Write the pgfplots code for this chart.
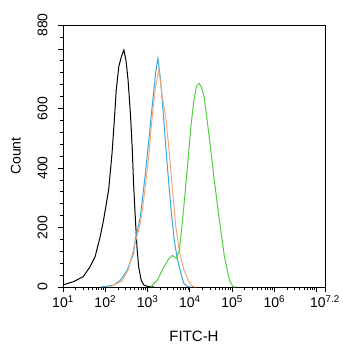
\documentclass[border=0pt]{standalone}
\usepackage{fontspec}
\setmainfont{Liberation Sans}
\usepackage{pgfplots}
\pgfplotsset{compat=1.18}
\definecolor{cblue}{HTML}{3AA8DC}
\definecolor{corange}{HTML}{F0A878}
\definecolor{cgreen}{HTML}{55CC44}
\begin{document}
\begin{tikzpicture}
\path[use as bounding box] (-63pt,-63pt) rectangle (279pt,287pt);
\begin{axis}[
  at={(0pt,0pt)}, anchor=south west,
  scale only axis, width=262pt, height=262pt,
  xmin=1, xmax=7.2, ymin=0, ymax=880,
  xtick={1,2,3,4,5,6,7,7.2},
  xticklabels={10\textsuperscript{1},10\textsuperscript{2},10\textsuperscript{3},10\textsuperscript{4},10\textsuperscript{5},10\textsuperscript{6},{},10\textsuperscript{7.2}},
  minor xtick={1.301,1.477,1.602,1.699,1.778,1.845,1.903,1.954,
               2.301,2.477,2.602,2.699,2.778,2.845,2.903,2.954,
               3.301,3.477,3.602,3.699,3.778,3.845,3.903,3.954,
               4.301,4.477,4.602,4.699,4.778,4.845,4.903,4.954,
               5.301,5.477,5.602,5.699,5.778,5.845,5.903,5.954,
               6.301,6.477,6.602,6.699,6.778,6.845,6.903,6.954},
  ytick={0,200,400,600,800,880},
  yticklabels={0,200,400,600,{},880},
  minor ytick={40,80,120,160,240,280,320,360,440,480,520,560,640,680,720,760,840},
  tick pos=left, tick align=outside,
  major tick length=5pt, minor tick length=3pt,
  tick style={black, line width=0.6pt},
  axis line style={black, line width=0.8pt},
  /pgf/number format/assume math mode=true,
  yticklabel style={rotate=90, anchor=south, font=\fontsize{14}{14}\selectfont},
  yticklabel shift=7pt,
  xticklabel style={font=\fontsize{14}{14}\selectfont},
  xlabel={FITC-H}, ylabel={Count},
  xlabel style={at={(axis description cs:0.5,-0.19)}, anchor=center, font=\fontsize{15}{15}\selectfont},
  ylabel style={at={(axis description cs:-0.18,0.5)}, anchor=center, font=\fontsize{14}{14}\selectfont},
  every axis plot/.append style={line width=1pt, mark=none},
]
% black
\addplot[black] coordinates {
(1.00,7) (1.25,18) (1.48,35) (1.64,68) (1.76,102) (1.88,169) (1.96,225) (2.08,326)
(2.16,449) (2.21,550) (2.26,662) (2.32,740) (2.38,773) (2.44,796) (2.49,762) (2.54,695)
(2.60,572) (2.64,460) (2.67,348) (2.71,236) (2.75,135) (2.79,68) (2.85,23) (2.91,7) (3.00,2) (3.15,0)
};
% blue
\addplot[cblue] coordinates {
(1.90,0) (2.20,6) (2.36,23) (2.52,57) (2.67,113) (2.71,160) (2.83,235) (2.95,382) (3.03,494)
(3.11,606) (3.19,718) (3.245,768) (3.31,695) (3.39,550) (3.47,404) (3.55,270) (3.63,158)
(3.71,91) (3.79,46) (3.86,12) (3.94,2) (4.02,0)
};
% orange
\addplot[corange] coordinates {
(2.10,0) (2.40,20) (2.55,60) (2.71,150) (2.83,215) (2.91,292) (3.03,438) (3.11,572) (3.19,673)
(3.27,729) (3.35,639) (3.43,572) (3.51,460) (3.59,326) (3.67,202) (3.75,124) (3.86,57)
(3.98,18) (4.06,2) (4.14,0)
};
% green
\addplot[cgreen] coordinates {
(3.07,0) (3.23,23) (3.39,68) (3.51,96) (3.59,106) (3.68,96) (3.75,120) (3.83,225) (3.94,395)
(4.02,530) (4.10,630) (4.16,675) (4.22,684) (4.28,670) (4.34,639) (4.46,505) (4.58,359)
(4.70,225) (4.82,102) (4.94,23) (5.02,1) (5.10,0)
};
\end{axis}
\end{tikzpicture}
\end{document}
